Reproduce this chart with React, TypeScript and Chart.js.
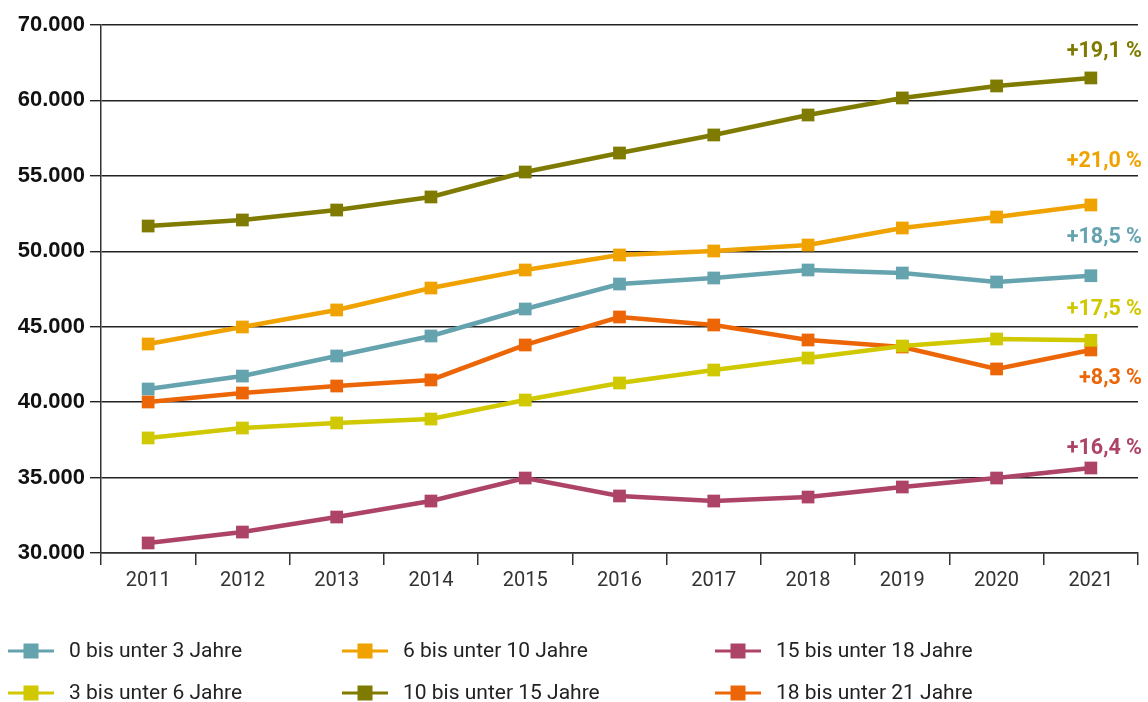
import React, { useEffect, useRef } from "react";
import { Chart, registerables } from "chart.js";

Chart.register(...registerables);

const years = ["2011", "2012", "2013", "2014", "2015", "2016", "2017", "2018", "2019", "2020", "2021"];

const age0to3 = [40870, 41730, 43060, 44385, 46175, 47830, 48230, 48760, 48560, 47965, 48380];
const age3to6 = [37625, 38285, 38620, 38880, 40140, 41270, 42130, 42925, 43720, 44185, 44100];
const age6to10 = [43855, 44980, 46110, 47565, 48760, 49755, 50020, 50415, 51545, 52270, 53070];
const age10to15 = [51675, 52075, 52735, 53600, 55255, 56515, 57710, 59035, 60165, 60960, 61490];
const age15to18 = [30665, 31390, 32385, 33445, 34970, 33780, 33445, 33710, 34375, 34970, 35635];
const age18to21 = [40010, 40605, 41070, 41470, 43790, 45645, 45115, 44120, 43655, 42200, 43460];

const seriesNames = [
  "0 bis unter 3 Jahre",
  "3 bis unter 6 Jahre",
  "6 bis unter 10 Jahre",
  "10 bis unter 15 Jahre",
  "15 bis unter 18 Jahre",
  "18 bis unter 21 Jahre",
];
const seriesColors = ["#65A3AF", "#D0C800", "#F0A200", "#7F7A00", "#AD4468", "#EC6608"];
const changeLabels = ["+18,5 %", "+17,5 %", "+21,0 %", "+19,1 %", "+16,4 %", "+8,3 %"];
const labelOffsets = [-38, -31, -43, -26, -19, 29];

const yTickMin = 30000;
const yTickMax = 65000;
const yTickStep = 5000;
const topTickLabel = "70.000";

const legendOrder = [0, 1, 2, 3, 4, 5];

export default function App() {
  const ref = useRef<HTMLCanvasElement | null>(null);
  useEffect(() => {
    document.body.style.margin = "0";
    const canvas = ref.current;
    if (!canvas) return;
    const allData = [age0to3, age3to6, age6to10, age10to15, age15to18, age18to21];
    const drawOrder = [4, 1, 5, 0, 2, 3];
    const datasets = drawOrder.map((i) => ({
      label: seriesNames[i],
      data: allData[i],
      borderColor: seriesColors[i],
      backgroundColor: seriesColors[i],
      borderWidth: 4.5,
      pointStyle: "rect" as const,
      pointRadius: 9,
      pointBorderWidth: 0,
      tension: 0,
      _idx: i,
    }));

    const annotate = {
      id: "annotate",
      afterDatasetsDraw(chart: any) {
        const ctx = chart.ctx;
        const area = chart.chartArea;
        ctx.save();
        ctx.font = "bold 21.5px Roboto";
        ctx.textAlign = "right";
        ctx.textBaseline = "middle";
        chart.data.datasets.forEach((ds: any, di: number) => {
          const i = ds._idx;
          const meta = chart.getDatasetMeta(di);
          const last = meta.data[meta.data.length - 1];
          ctx.fillStyle = seriesColors[i];
          ctx.fillText(changeLabels[i], area.right + 4, last.y + labelOffsets[i]);
        });
        const cols = [8, 342, 715];
        const rows = [651, 693];
        ctx.font = "21px Roboto";
        ctx.textAlign = "left";
        legendOrder.forEach((i, k) => {
          const x = cols[Math.floor(k / 2)];
          const y = rows[k % 2];
          ctx.strokeStyle = seriesColors[i];
          ctx.lineWidth = 3;
          ctx.beginPath();
          ctx.moveTo(x, y);
          ctx.lineTo(x + 46, y);
          ctx.stroke();
          ctx.fillStyle = seriesColors[i];
          ctx.fillRect(x + 15.5, y - 7.5, 15, 15);
          ctx.fillStyle = "#222";
          ctx.fillText(seriesNames[i], x + 61, y + 1);
        });
        ctx.restore();
      },
    };

    const chart = new Chart(canvas, {
      type: "line",
      data: { labels: years, datasets: datasets as any },
      options: {
        animation: false,
        responsive: false,
        maintainAspectRatio: false,
        layout: { padding: { top: 25, right: 10, left: 0, bottom: 0 } },
        plugins: { legend: { display: false }, tooltip: { enabled: false } },
        scales: {
          x: {
            offset: true,
            grid: {
              offset: true,
              drawOnChartArea: false,
              tickLength: 12,
              color: "#333",
              lineWidth: 1.5,
            },
            border: { display: true, color: "#333", width: 1.5 },
            ticks: { color: "#333", font: { family: "Roboto", size: 20 }, padding: 4 },
            afterFit: (s: any) => {
              s.height = 149;
            },
          },
          y: {
            min: yTickMin,
            max: yTickMax,
            ticks: {
              stepSize: yTickStep,
              color: "#111",
              font: { family: "Liberation Sans", size: 22, weight: "bold" },
              padding: 5,
              callback: (v: any) =>
                v === yTickMax ? topTickLabel : Number(v).toLocaleString("de-DE"),
            },
            grid: { color: "#222", lineWidth: 1.4, tickLength: 11 },
            border: { display: true, color: "#333", width: 1.5 },
            afterFit: (s: any) => {
              s.width = 101;
            },
          },
        },
      },
      plugins: [annotate],
    });
    return () => chart.destroy();
  }, []);
  return (
    <div style={{ width: 1148, height: 702 }}>
      <canvas ref={ref} width={1148} height={702} style={{ display: "block" }} />
    </div>
  );
}
